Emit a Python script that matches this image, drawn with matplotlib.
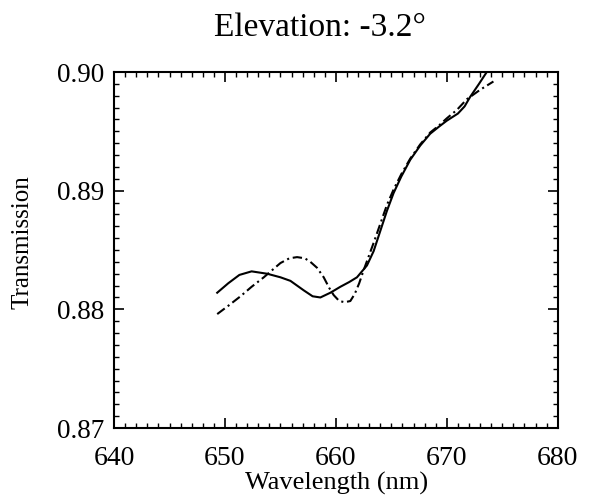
import matplotlib
matplotlib.use("Agg")
import matplotlib.pyplot as plt
from matplotlib.ticker import MultipleLocator

# Solid curve
wl_solid = [649.3, 650.3, 651.3, 652.4, 653.8, 655.0, 655.9, 657.1, 657.9, 658.6,
            659.5, 660.4, 661.2, 661.9, 662.8, 663.4, 664.0, 664.6, 665.2, 665.9,
            666.7, 667.6, 668.5, 669.3, 670.0, 671.0, 671.6, 672.1, 672.9, 673.6]
tr_solid = [0.8814, 0.8822, 0.8829, 0.8832, 0.8830, 0.8827, 0.8824, 0.8816, 0.8811, 0.8810,
            0.8814, 0.8819, 0.8823, 0.8827, 0.8837, 0.8849, 0.8866, 0.8883, 0.8898, 0.8912,
            0.8926, 0.8938, 0.8948, 0.8954, 0.8959, 0.8965, 0.8971, 0.8979, 0.8990, 0.9000]

# Dash-dot curve
wl_dash = [649.3, 650.3, 651.4, 652.4, 653.5, 655.0, 655.8, 656.5, 657.2, 657.7,
           658.3, 658.9, 659.4, 659.8, 660.3, 660.8, 661.3, 661.7, 662.1, 662.5,
           663.4, 664.0, 664.6, 665.2, 665.9, 666.7, 667.6, 668.5, 669.3, 670.0,
           670.9, 671.8, 673.0, 674.2]
tr_dash = [0.8796, 0.8803, 0.8811, 0.8819, 0.8827, 0.8839, 0.8843, 0.8844, 0.8843, 0.8840,
           0.8835, 0.8827, 0.8818, 0.8812, 0.8807, 0.8806, 0.8807, 0.8813, 0.8822, 0.8833,
           0.8856, 0.8872, 0.8888, 0.8901, 0.8914, 0.8927, 0.8939, 0.8949, 0.8955, 0.8961,
           0.8968, 0.8977, 0.8985, 0.8992]

x_ticks = [640, 650, 660, 670, 680]
y_ticks = [0.87, 0.88, 0.89, 0.90]
y_ticklabels = ["0.87", "0.88", "0.89", "0.90"]

plt.rcParams['font.family'] = ['Liberation Serif', 'DejaVu Serif']

fig = plt.figure(figsize=(5.94, 5.0), dpi=100)
ax = fig.add_axes([0.192, 0.144, 0.747, 0.712])

ax.plot(wl_solid, tr_solid, color='black', lw=1.5, solid_joinstyle='round')
ax.plot(wl_dash, tr_dash, color='black', lw=1.5, linestyle=(0, (4.5, 1.8, 1.0, 1.8)))

ax.set_xlim(640, 680)
ax.set_ylim(0.87, 0.90)
ax.set_xticks(x_ticks)
ax.set_yticks(y_ticks)
ax.set_yticklabels(y_ticklabels)
ax.xaxis.set_minor_locator(MultipleLocator(1))
ax.yaxis.set_minor_locator(MultipleLocator(0.001))
ax.tick_params(which='both', direction='in', top=True, right=True, colors='black')
ax.tick_params(axis='x', which='major', labelsize=20, pad=13)
ax.tick_params(axis='y', which='major', labelsize=19.5, pad=7)
ax.tick_params(which='major', length=7, width=1.2)
ax.tick_params(which='minor', length=3.5, width=1.0)
for s in ax.spines.values():
    s.set_linewidth(1.5)

ax.set_xlabel("Wavelength (nm)", fontsize=19)
ax.xaxis.set_label_coords(0.501, -0.124)
ax.set_ylabel("Transmission", fontsize=18)
ax.yaxis.set_label_coords(-0.182, 0.522)
ax.set_title("Elevation: -3.2°", fontsize=24, pad=26, x=0.465)

fig.savefig("out.png", dpi=100)
